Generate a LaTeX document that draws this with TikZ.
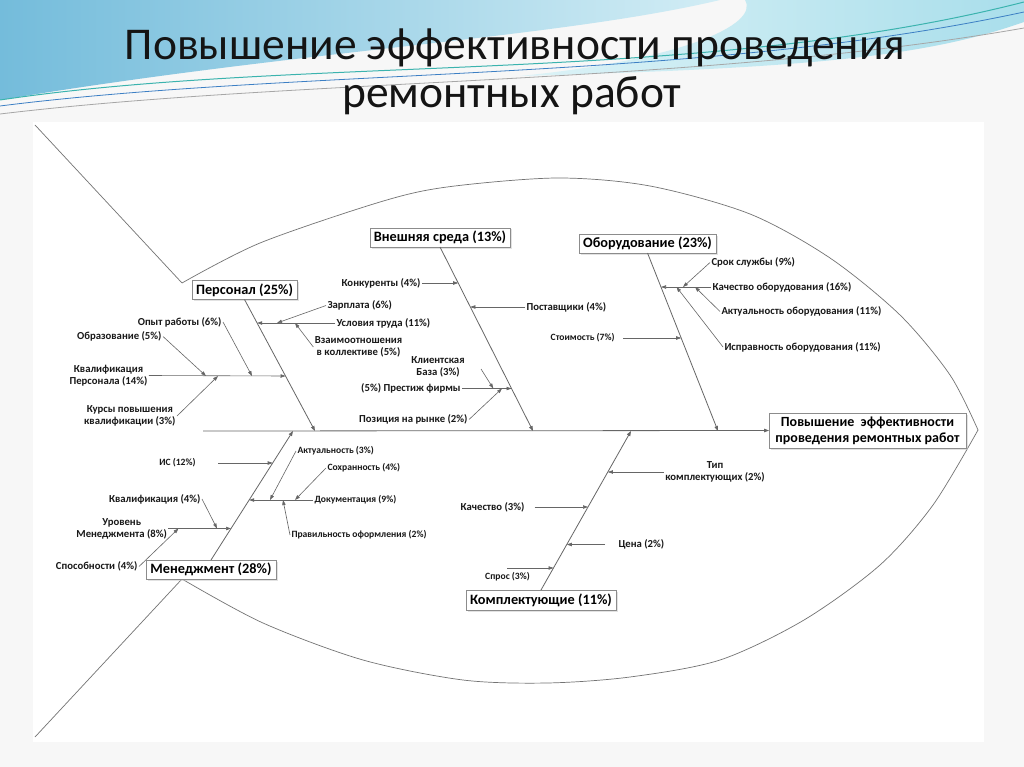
\documentclass[tikz,border=0pt]{standalone}
\usepackage{fontspec}
\setmainfont{Carlito}
\usetikzlibrary{arrows.meta,shadows,calc}
\definecolor{ln}{HTML}{666666}
\definecolor{bgc}{HTML}{F7F7F7}
\definecolor{hdA}{HTML}{74BCDB}
\definecolor{hdB}{HTML}{D2EDF5}
\definecolor{hdC}{HTML}{DDF3F7}
\definecolor{hdD}{HTML}{A9DEEB}
\definecolor{hlA}{HTML}{3BB3AE}
\definecolor{hlB}{HTML}{3C7FC4}
\begin{document}
\begin{tikzpicture}[x=1pt,y=-1pt,
  lbl/.style={font=\bfseries\fontsize{10.7}{12}\selectfont, text=black!90, inner sep=1.5pt, outer sep=0pt},
  lbls/.style={lbl, font=\bfseries\fontsize{9.6}{11}\selectfont},
  cat/.style={draw=black!45, fill=white, line width=0.7pt, font=\bfseries\fontsize{14.3}{16}\selectfont,
    inner sep=0pt, outer sep=0pt, minimum height=19pt,
    drop shadow={shadow xshift=1.5pt, shadow yshift=-1.5pt, fill=black!22}},
  bone/.style={draw=ln, line width=0.8pt, -{Triangle[length=5pt,width=3.6pt]}},
  arr/.style={draw=ln, line width=0.6pt, -{Triangle[length=5pt,width=3.4pt]}},
  outline/.style={draw=black!55, line width=0.7pt},
  ttl/.style={font=\fontsize{45.5}{48}\selectfont, text=black!92, anchor=base, inner sep=0pt}
]
\useasboundingbox (0,0) rectangle (1024,767);
% background
\fill[bgc] (0,0) rectangle (1024,767);
\shade[left color=hdA, right color=hdB] (0,0) -- (720,0) .. controls (560,38) and (300,50) .. (0,100) -- cycle;
\shade[left color=hdC, right color=hdD] (745,0) -- (1024,0) -- (1024,22) .. controls (930,55) and (820,68) .. (520,76) .. controls (680,60) and (760,25) .. cycle;
\draw[hlA, line width=1pt] (0,100) .. controls (300,55) and (700,85) .. (1024,2);
\draw[hlB, line width=0.8pt] (0,106) .. controls (300,68) and (700,82) .. (1024,12);
\draw[black!35, line width=0.8pt] (0,114) .. controls (300,78) and (700,85) .. (1024,28);
\fill[white] (33,122) rectangle (984,742);
% title
\node[ttl] (t1) at (515,60) {Повышение эффективности проведения};
\node[ttl] (t2) at (512,108) {ремонтных работ};
% fish outline
\draw[outline] (35,125) -- (182,283);
\draw[outline] (182,579) -- (35,737);
\draw[outline] plot[smooth] coordinates {(182,283) (260,243) (380,202) (447,187) (557,178) (650,186) (750,214) (830,258) (900,315) (950,375) (978,430)};
\draw[outline] plot[smooth] coordinates {(182,579) (263,623) (363,660) (463,680) (547,683) (630,677) (720,660) (804,620) (880,565) (933,505) (978,430)};
% boxes
\node[cat, minimum width=105pt] (per) at (244.5,290) {Персонал (25\%)};
\node[cat, minimum width=140pt] (ext) at (440,237.5) {Внешняя среда (13\%)};
\node[cat, minimum width=137pt] (obo) at (647.5,243.5) {Оборудование (23\%)};
\node[cat, minimum width=130pt] (man) at (211,569.5) {Менеджмент (28\%)};
\node[cat, minimum width=150pt, minimum height=20pt] (kom) at (541,600) {Комплектующие (11\%)};
\node[cat, minimum width=197pt, minimum height=35pt, align=center, font=\bfseries\fontsize{14}{16}\selectfont] (eff) at (867.5,430.5) {Повышение\ \ эффективности\\проведения ремонтных работ};
% spine
\coordinate (sL) at (203,431);
\coordinate (sPer) at (315,431);
\coordinate (sExt) at (533,431);
\coordinate (sObo) at (718,431);
\coordinate (sMan) at (293,431);
\coordinate (sKom) at (631,431);
\draw[bone] (sL) -- (eff.west);
\draw[bone] (per.south) -- (sPer);
\draw[bone] (ext.south) -- (sExt);
\draw[bone] (obo.south) -- (sObo);
\draw[bone] (man.north) -- (sMan);
\draw[bone] (kom.north) -- (sKom);
% --- Персонал
\coordinate (pK) at (285.5,376);
\coordinate (pKa) at (252,376);
\coordinate (pKb) at (206,376);
\coordinate (pKc) at (218,376);
\node[lbl, align=center] (kvp) at (108.5,375.5) {Квалификация\\Персонала (14\%)};
\draw[arr] (kvp.east) -- (pK);
\node[lbl, anchor=east] (opy) at (223,322) {Опыт работы (6\%)};
\draw[arr] (opy.east) -- (pKa);
\node[lbl, anchor=east] (obr) at (163,336.5) {Образование (5\%)};
\draw[arr] (obr.east) -- (pKb);
\node[lbl, anchor=east, align=center] (kur) at (177,416) {Курсы повышения\\квалификации (3\%)};
\draw[arr] (kur.east) -- (pKc);
\coordinate (pU) at (257.1,323);
\coordinate (pUa) at (277,323);
\coordinate (pUb) at (295,323);
\node[lbl, anchor=west] (usl) at (335,323) {Условия труда (11\%)};
\draw[arr] (usl.west) -- (pU);
\node[lbl, anchor=west] (zar) at (326,305.5) {Зарплата (6\%)};
\draw[arr] (zar.west) -- (pUa);
\node[lbl, align=center] (vza) at (358.5,347) {Взаимоотношения\\в коллективе (5\%)};
\draw[arr] (vza.west) -- (pUb);
% --- Внешняя среда
\coordinate (eK) at (458.2,283);
\node[lbl, anchor=east] (kon) at (422,283) {Конкуренты (4\%)};
\draw[arr] (kon.east) -- (eK);
\coordinate (eP) at (470.3,307);
\node[lbl, anchor=west] (pos) at (525,307) {Поставщики (4\%)};
\draw[arr] (pos.west) -- (eP);
\coordinate (eF) at (511.5,388.5);
\coordinate (eFa) at (493.3,388.5);
\coordinate (eFb) at (502,388.5);
\node[lbl, anchor=east] (pre) at (462,388.5) {(5\%) Престиж фирмы};
\draw[arr] (pre.east) -- (eF);
\node[lbl, align=center] (kli) at (438,367) {Клиентская\\База (3\%)};
\coordinate (kliS) at (481,369);
\draw[arr] (kliS) -- (eFa);
\node[lbl, anchor=east] (pzr) at (469,419.5) {Позиция на рынке (2\%)};
\draw[arr] (pzr.east) -- (eFb);
% --- Оборудование
\coordinate (oK) at (661,287);
\coordinate (oKa) at (683,287);
\coordinate (oKb) at (695,287);
\coordinate (oKc) at (676.5,287);
\node[lbl, anchor=west] (kob) at (711,287) {Качество оборудования (16\%)};
\draw[arr] (kob.west) -- (oK);
\node[lbl, anchor=west] (srk) at (710,262.5) {Срок службы (9\%)};
\draw[arr] (srk.west) -- (oKa);
\node[lbl, anchor=west] (akt) at (720,311.5) {Актуальность оборудования (11\%)};
\draw[arr] (akt.west) -- (oKb);
\node[lbl, anchor=west] (isp) at (723,347) {Исправность оборудования (11\%)};
\draw[arr] (isp.west) -- (oKc);
\coordinate (oS) at (681.2,338);
\node[lbls, anchor=east] (sto) at (616,338) {Стоимость (7\%)};
\coordinate (stoS) at (623,338);
\draw[arr] (stoS) -- (oS);
% --- Менеджмент
\coordinate (mI) at (272.7,463);
\node[lbls, anchor=east] (isn) at (197,463) {ИС (12\%)};
\coordinate (isS) at (218,463);
\draw[arr] (isS) -- (mI);
\coordinate (mD) at (249.1,500);
\coordinate (mDa) at (270,500);
\coordinate (mDb) at (295,500);
\coordinate (mDc) at (283,500);
\node[lbls, anchor=west] (dok) at (313,500) {Документация (9\%)};
\draw[arr] (dok.west) -- (mD);
\node[lbls, anchor=west] (akm) at (296,451) {Актуальность (3\%)};
\draw[arr] (akm.west) -- (mDa);
\node[lbls, anchor=west] (soh) at (326,468) {Сохранность (4\%)};
\draw[arr] (soh.west) -- (mDb);
\node[lbls, anchor=west] (prf) at (290,535) {Правильность оформления (2\%)};
\draw[arr] (prf.west) -- (mDc);
\coordinate (mU) at (231,528.5);
\coordinate (mUa) at (217,528.5);
\coordinate (mUb) at (178.5,528.5);
\node[lbl, align=center] (urm) at (121.7,528.5) {Уровень\\Менеджмента (8\%)};
\draw[arr] (urm.east) -- (mU);
\node[lbl, anchor=east] (kvm) at (202,499) {Квалификация (4\%)};
\draw[arr] (kvm.east) -- (mUa);
\node[lbl, anchor=east] (spo) at (139,566.5) {Способности (4\%)};
\draw[arr] (spo.east) -- (mUb);
% --- Комплектующие
\coordinate (kT) at (607.8,472);
\node[lbl, align=center] (tkm) at (715,472) {Тип\\комплектующих (2\%)};
\draw[arr] (tkm.west) -- (kT);
\coordinate (kK) at (588,507);
\node[lbl, anchor=east] (kac) at (526,507) {Качество (3\%)};
\coordinate (kacS) at (534.6,507);
\draw[arr] (kacS) -- (kK);
\coordinate (kC) at (566.8,544.5);
\node[lbl, anchor=west] (cen) at (617,544.5) {Цена (2\%)};
\coordinate (cenS) at (605,544.5);
\draw[arr] (cenS) -- (kC);
\coordinate (kS) at (553.5,568);
\node[lbls] (spr) at (507.5,577) {Спрос (3\%)};
\coordinate (sprS) at (507,568);
\draw[arr] (sprS) -- (kS);
\end{tikzpicture}
\end{document}
